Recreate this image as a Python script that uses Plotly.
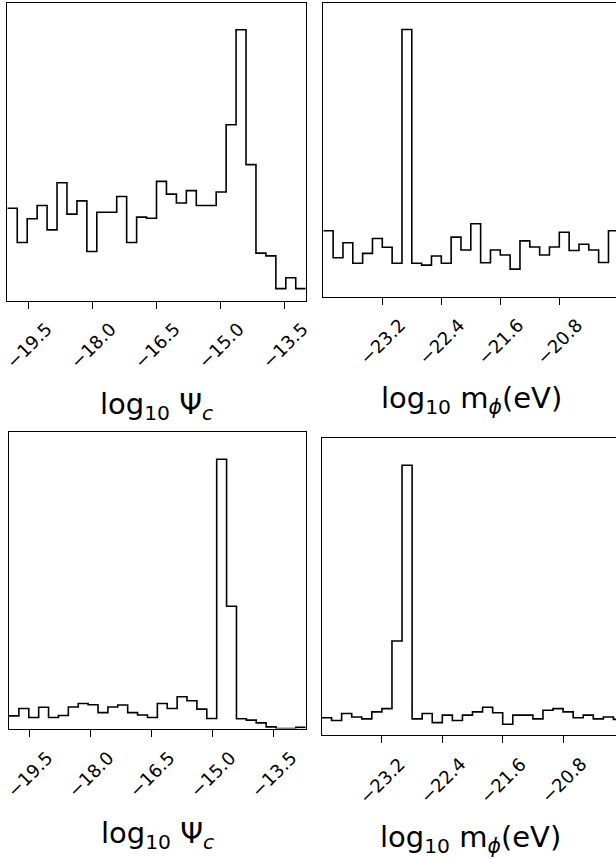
import numpy as np
import plotly.graph_objects as go

W, H = 616, 859

# ---- data (normalised bin heights, peak = 100) ----
psi_top = [34.1, 21.4, 30.2, 35.1, 26.1, 43.5, 31.9, 36.8, 18.1, 32.6,
           32.6, 38.4, 21.4, 30.8, 30.4, 44.0, 39.3, 36.0, 40.6, 35.1,
           35.1, 40.1, 64.9, 100, 50.2, 17.5, 16.5, 4.4, 8.4, 4.4]
mphi_top = [24.7, 14.6, 20.2, 12.5, 16.2, 21.8, 18.5, 12.5, 100, 12.5,
            11.8, 15.2, 12.5, 22.3, 17.5, 27.3, 12.7, 17.5, 15.6, 10.3,
            20.9, 18.6, 15.6, 18.6, 24.1, 17.3, 19.6, 17.5, 12.8, 24.7]
psi_bot = [4.7, 7.4, 4.1, 7.9, 4.1, 4.8, 8.0, 9.3, 8.8, 5.9,
           8.0, 8.7, 5.9, 5.0, 4.1, 9.3, 7.4, 11.8, 10.3, 7.2,
           3.7, 100, 45.4, 3.6, 3.1, 2.1, 0.6, 0, 0, 0.4]
mphi_bot = [6.2, 5.2, 7.8, 6.5, 5.8, 8.4, 9.6, 34.7, 100, 5.8,
            7.8, 4.4, 7.2, 5.2, 7.2, 8.4, 10.1, 8.1, 3.8, 7.2,
            7.2, 5.8, 9.0, 9.6, 8.4, 6.2, 7.2, 5.8, 6.5, 5.6]

psi_bins_top = (-20.0, -13.0)
mphi_bins_top = (-24.0, -20.0)
psi_bins_bot = (-20.0, -12.7)
mphi_bins_bot = (-24.0, -20.0)

psi_ticks = [-19.5, -18.0, -16.5, -15.0, -13.5]
psi_ticklabels = ["\u221219.5", "\u221218.0", "\u221216.5", "\u221215.0", "\u221213.5"]
mphi_ticks = [-23.2, -22.4, -21.6, -20.8]
mphi_ticklabels = ["\u221223.2", "\u221222.4", "\u221221.6", "\u221220.8"]

label_psi = "log<sub>10</sub> \u03a8<sub><i>c</i></sub>"
label_mphi = "log<sub>10</sub> m<sub><i>\u03d5</i></sub>(eV)"

FONT = "DejaVu Sans"

def px2x(p):
    return p / W

def px2y(p):
    return 1 - p / H

panels = [
    dict(c=psi_top, b=psi_bins_top, rng=[-20.0, -13.0], xd=(7.3, 305.7), yd=(2.7, 300.5), mir=True,
         tv=psi_ticks, tl=psi_ticklabels, lab=label_psi, tly=345, ly=406, lx=156.5),
    dict(c=mphi_top, b=mphi_bins_top, rng=[-24.0, -24.0 + (616 - 323.3) / 73.75], xd=(323.3, 616), yd=(2.7, 296.7), mir=False,
         tv=mphi_ticks, tl=mphi_ticklabels, lab=label_mphi, tly=341.5, ly=400, lx=471),
    dict(c=psi_bot, b=psi_bins_bot, rng=[-20.0, -12.7], xd=(9.0, 305.7), yd=(432.3, 728.5), mir=True,
         tv=psi_ticks, tl=psi_ticklabels, lab=label_psi, tly=774, ly=835, lx=157.5),
    dict(c=mphi_bot, b=mphi_bins_bot, rng=[-24.0, -24.0 + (616 - 321.5) / 75.5], xd=(321.5, 616), yd=(438.3, 734.5), mir=False,
         tv=mphi_ticks, tl=mphi_ticklabels, lab=label_mphi, tly=780, ly=839, lx=470.5),
]

fig = go.Figure()
annotations = []
layout = {}
for i, p in enumerate(panels):
    k = "" if i == 0 else str(i + 1)
    n = len(p["c"])
    edges = np.linspace(p["b"][0], p["b"][1], n + 1)
    xs = list(edges)
    ys = list(p["c"]) + [p["c"][-1]]
    fig.add_trace(go.Scatter(x=xs, y=ys, mode="lines", line=dict(color="black", width=1.6, shape="hv"),
                             xaxis="x" + k, yaxis="y" + k, showlegend=False, hoverinfo="skip"))
    layout["xaxis" + k] = dict(domain=[px2x(p["xd"][0]), px2x(p["xd"][1])], range=p["rng"], anchor="y" + k,
                               showline=True, mirror=True, linecolor="black", linewidth=1.2,
                               ticks="outside", ticklen=7, tickwidth=1.2, tickcolor="black",
                               tickvals=p["tv"], showticklabels=False, showgrid=False, zeroline=False)
    layout["yaxis" + k] = dict(domain=[px2y(p["yd"][1]), px2y(p["yd"][0])], range=[0, 110], anchor="x" + k,
                               showline=True, mirror=p["mir"], linecolor="black", linewidth=1.2,
                               ticks="", showticklabels=False, showgrid=False, zeroline=False)
    for tv, tl in zip(p["tv"], p["tl"]):
        annotations.append(dict(x=tv, xref="x" + k, y=px2y(p["tly"]), yref="paper", text=tl,
                                textangle=-45, showarrow=False, xanchor="center", yanchor="middle",
                                font=dict(family=FONT, size=18, color="black")))
    annotations.append(dict(x=px2x(p["lx"]), xref="paper", y=px2y(p["ly"]), yref="paper", text=p["lab"],
                            showarrow=False, xanchor="center", yanchor="middle",
                            font=dict(family=FONT, size=29, color="black")))

fig.update_layout(width=W, height=H, margin=dict(l=0, r=0, t=0, b=0),
                  paper_bgcolor="white", plot_bgcolor="white", annotations=annotations, **layout)
fig.write_html("out.html", config={"displayModeBar": False},
               post_script="document.body.style.margin='0';document.body.style.padding='0';"
                           "document.documentElement.style.overflow='hidden';")
